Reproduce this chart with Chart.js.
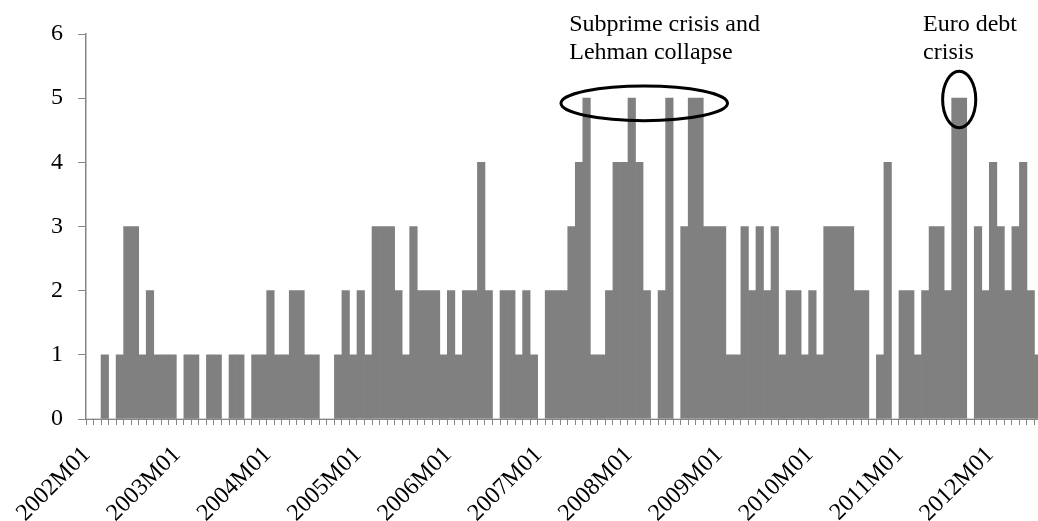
<!DOCTYPE html>
<html>
<head>
<meta charset="utf-8">
<script src="https://cdn.jsdelivr.net/npm/chart.js@4/dist/chart.umd.min.js"></script>
<style>
  html, body { margin: 0; padding: 0; background: #fff; overflow: hidden; }
  #box { width: 1045px; height: 521px; }
</style>
</head>
<body>
<div id="box"><canvas id="grafico"></canvas></div>
<script>
// anos e meses do eixo x (2002M01 .. 2012M07)
const anos = [2002, 2003, 2004, 2005, 2006, 2007, 2008, 2009, 2010, 2011, 2012];
const meses = ["01", "02", "03", "04", "05", "06", "07", "08", "09", "10", "11", "12"];
const ultimoMes = 7;

// contagens mensais
const contagens = [
    0, 0, 1, 0, 1, 3, 3, 1, 2, 1, 1, 1,      // 2002
    0, 1, 1, 0, 1, 1, 0, 1, 1, 0, 1, 1,      // 2003
    2, 1, 1, 2, 2, 1, 1, 0, 0, 1, 2, 1,      // 2004
    2, 1, 3, 3, 3, 2, 1, 3, 2, 2, 2, 1,      // 2005
    2, 1, 2, 2, 4, 2, 0, 2, 2, 1, 2, 1,      // 2006
    0, 2, 2, 2, 3, 4, 5, 1, 1, 2, 4, 4,      // 2007
    5, 4, 2, 0, 2, 5, 0, 3, 5, 5, 3, 3,      // 2008
    3, 1, 1, 3, 2, 3, 2, 3, 1, 2, 2, 1,      // 2009
    2, 1, 3, 3, 3, 3, 2, 2, 0, 1, 4, 0,      // 2010
    2, 2, 1, 2, 3, 3, 2, 5, 5, 0, 3, 2,      // 2011
    4, 3, 2, 3, 4, 2, 1                      // 2012
];

const yTicks = [0, 1, 2, 3, 4, 5, 6];

// anotações (em unidades dos eixos: índice da categoria, valor)
const textos = [
    { x: 63.7, y: 6.04, linhas: ["Subprime crisis and", "Lehman collapse"] },
    { x: 110.7, y: 6.04, linhas: ["Euro debt", "crisis"] }
];
const elipses = [
    { x: 73.66, y: 4.92, rx: 11.06, ry: 0.27 },
    { x: 115.5, y: 4.98, rx: 2.2, ry: 0.44 }
];

const categorias = [];
anos.forEach(ano => {
    meses.forEach((m, i) => {
        if (ano === 2012 && i >= ultimoMes) return;
        categorias.push(ano + "M" + m);
    });
});

const fonte = '"Liberation Serif", "Times New Roman", serif';

const anotacoes = {
    id: "anotacoes",
    afterDatasetsDraw(chart) {
        const ctx = chart.ctx;
        const xs = chart.scales.x;
        const ys = chart.scales.y;
        const passo = xs.getPixelForValue(1) - xs.getPixelForValue(0);
        const unidade = ys.getPixelForValue(0) - ys.getPixelForValue(1);
        ctx.save();
        ctx.strokeStyle = "#000";
        ctx.lineWidth = 3;
        elipses.forEach(e => {
            ctx.beginPath();
            ctx.ellipse(xs.getPixelForValue(e.x), ys.getPixelForValue(e.y),
                e.rx * passo, e.ry * unidade, 0, 0, Math.PI * 2);
            ctx.stroke();
        });
        ctx.fillStyle = "#000";
        ctx.font = "24px " + fonte;
        ctx.textAlign = "left";
        ctx.textBaseline = "alphabetic";
        textos.forEach(t => {
            const px = xs.getPixelForValue(t.x);
            const py = ys.getPixelForValue(t.y);
            t.linhas.forEach((linha, i) => ctx.fillText(linha, px, py + i * 28));
        });
        ctx.restore();
    }
};

const ctx = document.getElementById("grafico").getContext("2d");
new Chart(ctx, {
    type: "bar",
    data: {
        labels: categorias,
        datasets: [{
            data: contagens,
            backgroundColor: "#808080",
            borderWidth: 0,
            barPercentage: 1.0,
            categoryPercentage: 1.0
        }]
    },
    options: {
        responsive: true,
        maintainAspectRatio: false,
        animation: false,
        layout: { padding: { top: 34, right: 3, left: 0, bottom: 0 } },
        plugins: {
            legend: { display: false },
            tooltip: { enabled: false }
        },
        scales: {
            x: {
                offset: true,
                grid: {
                    offset: true,
                    drawOnChartArea: false,
                    drawTicks: true,
                    tickLength: 6,
                    color: "#868686"
                },
                border: { color: "#868686", width: 1 },
                ticks: {
                    autoSkip: false,
                    minRotation: 45,
                    maxRotation: 45,
                    padding: 16,
                    labelOffset: -3,
                    color: "#000",
                    font: { family: fonte, size: 24 },
                    callback: function (v, i) {
                        return i % 12 === 0 ? categorias[i] : "";
                    }
                },
                afterFit: function (s) {
                    s.height = 102;
                    s.paddingLeft = 0;
                    s.paddingRight = 0;
                }
            },
            y: {
                min: 0,
                max: 6,
                grid: {
                    drawOnChartArea: false,
                    drawTicks: true,
                    tickLength: 8,
                    color: "#868686"
                },
                border: { color: "#868686", width: 1.5 },
                afterBuildTicks: function (s) {
                    s.ticks = yTicks.map(v => ({ value: v }));
                },
                ticks: {
                    padding: 15,
                    color: "#000",
                    font: { family: fonte, size: 24 }
                },
                afterFit: function (s) { s.width = 86; }
            }
        }
    },
    plugins: [anotacoes]
});
</script>
</body>
</html>
